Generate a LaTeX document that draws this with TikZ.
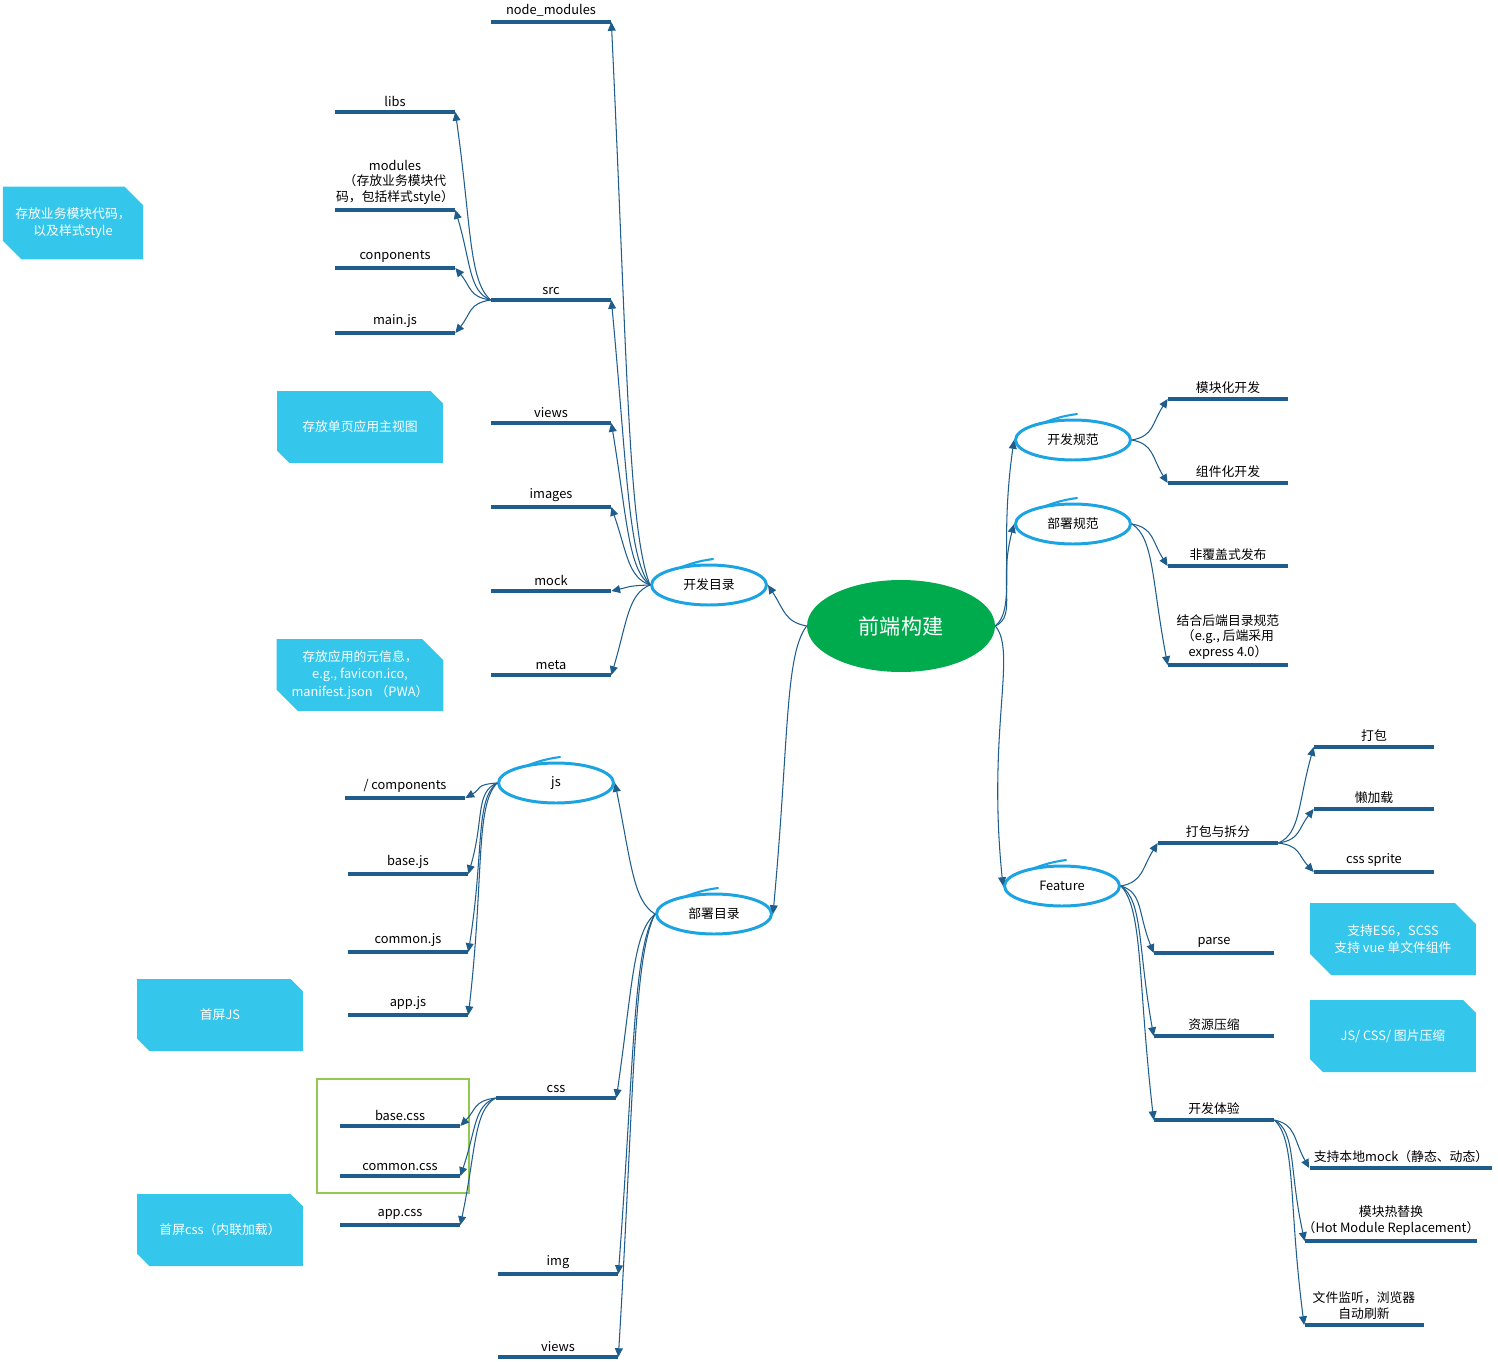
\documentclass[tikz,border=0pt]{standalone}
\usepackage{fontspec}
\setmainfont{Noto Sans CJK SC}
\usepackage{tikz}
\usetikzlibrary{shapes,shapes.misc,arrows.meta}
\definecolor{myBar}{RGB}{31,94,140}
\definecolor{myTopic}{RGB}{28,164,226}
\definecolor{myGreen}{RGB}{0,171,78}
\definecolor{myNote}{RGB}{52,198,235}
\definecolor{myFrame}{RGB}{146,200,80}
\newcommand{\mmfont}{\fontsize{7.3}{9}\selectfont}
\tikzset{
  bar/.style={rectangle, fill=myBar, minimum width=2.4cm, minimum height=0.08cm, inner sep=0pt, label distance=0pt},
  every label/.style={font=\mmfont, inner sep=1.5pt, align=center},
  topic/.style={ellipse, draw=myTopic, line width=1.7pt, minimum width=2.3cm, minimum height=0.8cm, inner sep=0pt, font=\mmfont},
  root/.style={ellipse, fill=myGreen, text=white, minimum width=3.76cm, minimum height=1.84cm, font=\fontsize{12}{14}\selectfont},
  note/.style={chamfered rectangle, chamfered rectangle corners={north east,south west}, chamfered rectangle xsep=0.3cm, fill=myNote, text=white, font=\fontsize{7.3}{10}\selectfont, align=center, minimum width=3.32cm, minimum height=1.44cm, inner sep=0pt},
  conn/.style={myBar, line width=0.6pt, -{Triangle[length=5pt,width=4.5pt]}},
  swoosh/.style={myTopic, line width=1.2pt, line cap=round}
}
\begin{document}
\begin{tikzpicture}[x=0.02cm, y=-0.02cm]
  \useasboundingbox (0,0) rectangle (1498,1362);
  % Zentrum
  \node[root] (root) at (901,626) {前端构建};
  % Hauptaeste
  \node[topic] (kfml) at (709,585) {开发目录};
  \node[topic] (bsml) at (714,914) {部署目录};
  \node[topic] (kfgf) at (1073,440) {开发规范};
  \node[topic] (bsgf) at (1073,524) {部署规范};
  \node[topic] (feat) at (1062,886) {Feature};
  \node[topic] (js) at (556,783) {js};
  \foreach \n in {kfml, bsml, kfgf, bsgf, feat, js} {
    \draw[swoosh] ([xshift=-0.55cm, yshift=-0.07cm]\n.north) to[bend left=6] ([xshift=0.08cm, yshift=0.09cm]\n.north);
  }
  % Entwicklungsverzeichnis
  \node[bar, label={above:node\_modules}] (nm) at (551,22) {};
  \node[bar, label={above:src}] (src) at (551,300) {};
  \node[bar, label={above:views}] (views) at (551,423) {};
  \node[bar, label={above:images}] (images) at (551,507) {};
  \node[bar, label={above:mock}] (mock) at (551,591) {};
  \node[bar, label={above:meta}] (meta) at (551,675) {};
  \node[bar, label={above:libs}] (libs) at (395,112) {};
  \node[bar, label={above:{modules\\（存放业务模块代\\码，包括样式style）}}] (modules) at (395,210) {};
  \node[bar, label={above:conponents}] (conpo) at (395,268) {};
  \node[bar, label={above:main.js}] (mainjs) at (395,333) {};
  % Deployverzeichnis
  \node[bar, label={above:/ components}] (comp) at (405,798) {};
  \node[bar, label={above:base.js}] (basejs) at (408,874) {};
  \node[bar, label={above:common.js}] (commonjs) at (408,952) {};
  \node[bar, label={above:app.js}] (appjs) at (408,1015) {};
  \node[bar, label={above:css}] (css) at (556,1098) {};
  \node[bar, label={above:img}] (img) at (558,1274) {};
  \node[bar, label={above:views}] (bviews) at (558,1357) {};
  \node[bar, label={above:base.css}] (basecss) at (400,1126) {};
  \node[bar, label={above:common.css}] (commoncss) at (400,1176) {};
  \node[bar, label={above:app.css}] (appcss) at (400,1225) {};
  \draw[myFrame, line width=1.1pt] (317,1079) rectangle (469,1193);
  % Spezifikationen
  \node[bar, label={above:模块化开发}] (mkh) at (1228,399) {};
  \node[bar, label={above:组件化开发}] (zjh) at (1228,483) {};
  \node[bar, label={above:非覆盖式发布}] (ffg) at (1228,566) {};
  \node[bar, label={above:{结合后端目录规范\\（e.g., 后端采用\\express 4.0）}}] (jhhd) at (1228,665) {};
  % Feature
  \node[bar, label={above:打包与拆分}] (dbcf) at (1218,843) {};
  \node[bar, label={above:parse}] (parse) at (1214,953) {};
  \node[bar, label={above:资源压缩}] (zyys) at (1214,1036) {};
  \node[bar, label={above:开发体验}] (kfty) at (1214,1120) {};
  \node[bar, label={above:打包}] (db) at (1374,747) {};
  \node[bar, label={above:懒加载}] (ljz) at (1374,809) {};
  \node[bar, label={above:css sprite}] (csss) at (1374,872) {};
  \node[bar, minimum width=3.66cm, label={above:支持本地mock（静态、动态）}] (lmock) at (1401,1168) {};
  \node[bar, minimum width=3.44cm, label={above:{模块热替换\\（Hot Module Replacement）}}] (hmr) at (1391,1241) {};
  \node[bar, minimum width=2.38cm, label={above:{文件监听，浏览器\\自动刷新}}] (wjjt) at (1364,1325) {};
  % Notizen
  \node[note, chamfered rectangle xsep=0.25cm, minimum width=2.8cm, minimum height=1.46cm] (n1) at (73,223) {存放业务模块代码，\\以及样式style};
  \node[note] (n2) at (360,427) {存放单页应用主视图};
  \node[note] (n3) at (360,675) {存放应用的元信息，\\e.g., favicon.ico,\\manifest.json （PWA）};
  \node[note] (n4) at (220,1015) {首屏JS};
  \node[note] (n5) at (220,1230) {首屏css（内联加载）};
  \node[note] (n6) at (1393,939) {支持ES6，SCSS\\支持 vue 单文件组件};
  \node[note] (n7) at (1393,1036) {JS/ CSS/ 图片压缩};
  % Verbindungen links
  \foreach \p/\c/\d in {root/kfml/41, root/bsml/-288,
      kfml/nm/563, kfml/src/285, kfml/views/162, kfml/images/78, kfml/mock/-6, kfml/meta/-90,
      src/libs/188, src/modules/90, src/conpo/32, src/mainjs/-33,
      bsml/js/131, bsml/css/-184, bsml/img/-360, bsml/bviews/-443,
      js/comp/-15, js/basejs/-91, js/commonjs/-169, js/appjs/-232,
      css/basecss/-28, css/commoncss/-78, css/appcss/-127}
    \draw[conn] (\p.west) .. controls +(-22,{-0.1*(\d)}) and +(16,{0.6*(\d)}) .. (\c.east);
  % Verbindungen rechts
  \foreach \p/\c/\d in {root/kfgf/186, root/bsgf/102, root/feat/-260,
      kfgf/mkh/41, kfgf/zjh/-43, bsgf/ffg/-42, bsgf/jhhd/-141,
      feat/dbcf/43, feat/parse/-67, feat/zyys/-150, feat/kfty/-234,
      dbcf/db/96, dbcf/ljz/34, dbcf/csss/-29,
      kfty/lmock/-48, kfty/hmr/-121, kfty/wjjt/-205}
    \draw[conn] (\p.east) .. controls +(22,{-0.1*(\d)}) and +(-16,{0.6*(\d)}) .. (\c.west);
\end{tikzpicture}
\end{document}
